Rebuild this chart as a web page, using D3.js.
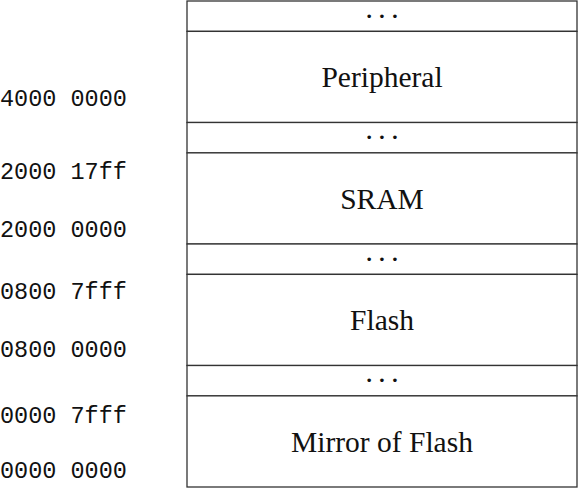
<!DOCTYPE html>
<html>
<head>
<meta charset="utf-8">
<script src="https://cdn.jsdelivr.net/npm/d3@7"></script>
<style>
  body { margin: 0; background: #fff; }
  svg { display: block; }
</style>
</head>
<body>
<svg id="map" width="578" height="489"></svg>
<script>
// memory regions, top to bottom, with their height in units
var regionNames = ["\u00B7 \u00B7 \u00B7", "Peripheral", "\u00B7 \u00B7 \u00B7", "SRAM", "\u00B7 \u00B7 \u00B7", "Flash", "\u00B7 \u00B7 \u00B7", "Mirror of Flash"];
var regionSizes = [1, 3, 1, 3, 1, 3, 1, 3];

// address labels on the left and where they sit (units from the bottom)
var addrLabels = ["4000 0000", "2000 17ff", "2000 0000", "0800 7fff", "0800 0000", "0000 7fff", "0000 0000"];
var addrPos = [12.8, 10.42, 8.51, 6.47, 4.56, 2.39, 0.58];

var svg = d3.select("#map"),
    margin = {top: 1, right: 1, bottom: 2, left: 187},
    width = +svg.attr("width") - margin.left - margin.right,
    height = +svg.attr("height") - margin.top - margin.bottom;

var total = d3.sum(regionSizes);

// y in units from the bottom
var y = d3.scaleLinear().domain([0, total]).range([height + margin.top, margin.top]);

// stack the regions from the top down
var rows = [];
var acc = total;
regionNames.forEach(function (name, i) {
    rows.push({name: name, top: acc, bottom: acc - regionSizes[i], gap: regionSizes[i] === 1});
    acc -= regionSizes[i];
});

var g = svg.append("g");

g.selectAll(".region")
    .data(rows)
    .enter().append("rect")
    .attr("class", "region")
    .attr("x", margin.left)
    .attr("y", function (d) { return y(d.top); })
    .attr("width", width)
    .attr("height", function (d) { return y(d.bottom) - y(d.top); })
    .attr("fill", "#fff")
    .attr("stroke", "#333")
    .attr("stroke-width", 1.3);

g.selectAll(".name")
    .data(rows)
    .enter().append("text")
    .attr("class", "name")
    .attr("x", margin.left + width / 2)
    .attr("y", function (d) { return y((d.top + d.bottom) / 2); })
    .attr("dy", function (d) { return d.gap ? "0.3em" : "0.35em"; })
    .attr("text-anchor", "middle")
    .attr("xml:space", "preserve")
    .style("font-family", "'Liberation Serif', 'DejaVu Serif', serif")
    .style("font-size", function (d) { return d.gap ? "22px" : "29.5px"; })
    .style("font-weight", function (d) { return d.gap ? "bold" : "normal"; })
    .attr("fill", "#111")
    .text(function (d) { return d.name; });

g.selectAll(".addr")
    .data(addrLabels)
    .enter().append("text")
    .attr("class", "addr")
    .attr("x", 0)
    .attr("y", function (d, i) { return y(addrPos[i]); })
    .attr("dy", "0.35em")
    .style("font-family", "'Liberation Mono', 'DejaVu Sans Mono', monospace")
    .style("font-size", "23.5px")
    .attr("fill", "#111")
    .attr("xml:space", "preserve")
    .text(function (d) { return d; });
</script>
</body>
</html>
